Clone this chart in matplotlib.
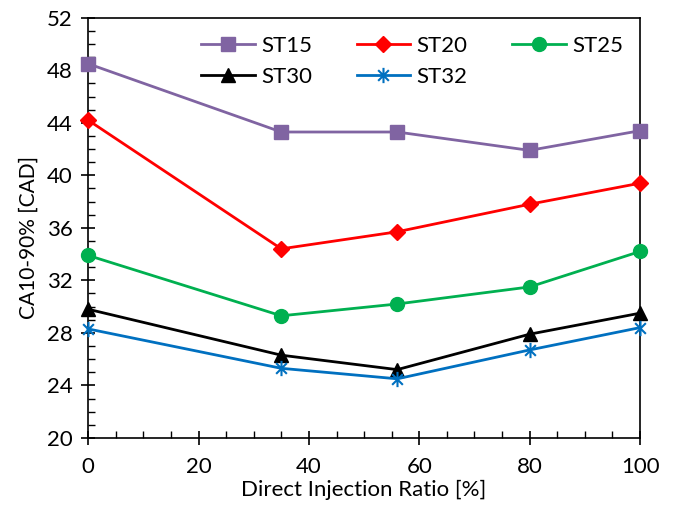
import matplotlib.pyplot as plt
from matplotlib.path import Path
from matplotlib.ticker import MultipleLocator

plt.rcParams['font.family'] = ['Lato', 'DejaVu Sans']

# Direct injection ratio [%]
di_ratio = [0, 35, 56, 80, 100]

# CA10-90% burn duration [CAD] for each start timing
st15 = [48.5, 43.3, 43.3, 41.9, 43.4]
st20 = [44.2, 34.4, 35.7, 37.8, 39.4]
st25 = [33.9, 29.3, 30.2, 31.5, 34.2]
st30 = [29.8, 26.3, 25.2, 27.9, 29.5]
st32 = [28.3, 25.3, 24.5, 26.7, 28.4]

# asterisk: vertical stroke plus an X
star = Path([(0, -1), (0, 1), (-0.7, -0.7), (0.7, 0.7), (-0.7, 0.7), (0.7, -0.7)],
            [Path.MOVETO, Path.LINETO] * 3)

fig = plt.figure(figsize=(6.73, 5.08), dpi=100)
ax = fig.add_axes([0.131, 0.138, 0.820, 0.827])

h15, = ax.plot(di_ratio, st15, color='#8064A2', marker='s', markersize=10, lw=2, label='ST15', clip_on=False, zorder=3)
h20, = ax.plot(di_ratio, st20, color='#FF0000', marker='D', markersize=8, lw=2, label='ST20', clip_on=False, zorder=3)
h25, = ax.plot(di_ratio, st25, color='#00B050', marker='o', markersize=10, lw=2, label='ST25', clip_on=False, zorder=3)
h30, = ax.plot(di_ratio, st30, color='black', marker='^', markersize=10, lw=2, label='ST30', clip_on=False, zorder=3)
h32, = ax.plot(di_ratio, st32, color='#0070C0', marker=star, markersize=11, mew=1.5, lw=2, label='ST32', clip_on=False, zorder=3)

ax.set_xlim(0, 100)
ax.set_ylim(20, 52)
ax.xaxis.set_major_locator(MultipleLocator(20))
ax.xaxis.set_minor_locator(MultipleLocator(5))
ax.yaxis.set_major_locator(MultipleLocator(4))
ax.yaxis.set_minor_locator(MultipleLocator(1))
ax.tick_params(which='major', direction='inout', length=10, width=1.2, labelsize=16, pad=6)
ax.tick_params(which='minor', direction='in', length=5, width=1)
ax.tick_params(axis='x', pad=9)
for s in ax.spines.values():
    s.set_linewidth(1.2)

ax.set_xlabel('Direct Injection Ratio [%]', fontsize=16, labelpad=2)
ax.set_ylabel('CA10-90% [CAD]', fontsize=15)
ax.yaxis.set_label_coords(-0.09, 0.476)

# row-wise order: ST15 ST20 ST25 / ST30 ST32
handles = [h15, h30, h20, h32, h25]
ax.legend(handles, [h.get_label() for h in handles], ncol=3,
          loc='upper left', bbox_to_anchor=(0.205, 0.957), frameon=False,
          fontsize=16, handlelength=2.4, columnspacing=2.0, handletextpad=0.3,
          labelspacing=0.5, borderaxespad=0, borderpad=0)

fig.savefig('out.png', dpi=100)
